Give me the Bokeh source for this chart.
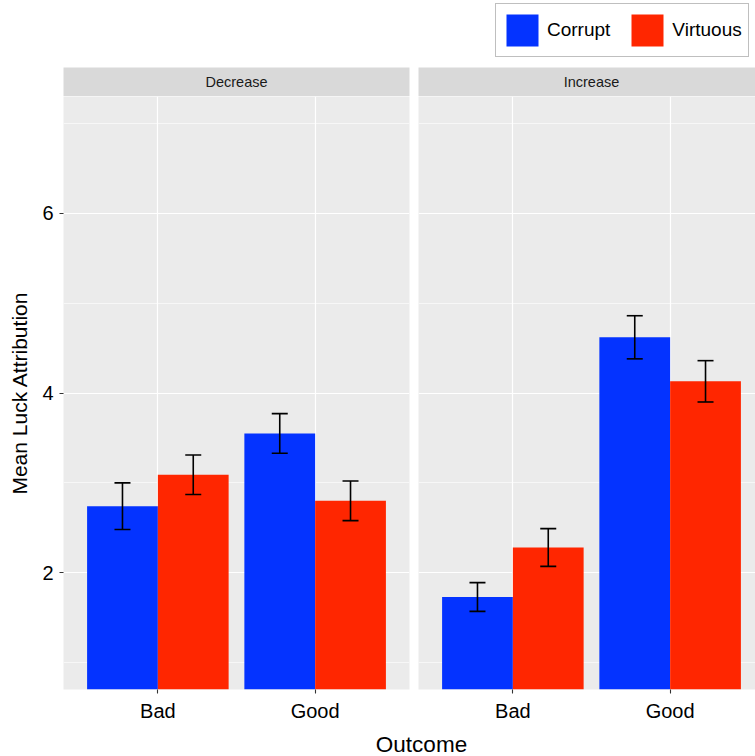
import numpy as np
from bokeh.plotting import figure
from bokeh.models import (ColumnDataSource, Range1d, FixedTicker, Whisker, TeeHead,
                          Label, Legend, LegendItem)
from bokeh.layouts import column, row
from bokeh.embed import file_html
from bokeh.resources import INLINE

# ---------------- data ----------------
outcomes = ["Bad", "Good"]
targets = ["Corrupt", "Virtuous"]
facets = ["Decrease", "Increase"]

dec_corrupt = [2.74, 3.55]
dec_corrupt_se = [0.26, 0.22]
dec_virtuous = [3.09, 2.80]
dec_virtuous_se = [0.22, 0.22]

inc_corrupt = [1.73, 4.62]
inc_corrupt_se = [0.16, 0.24]
inc_virtuous = [2.28, 4.13]
inc_virtuous_se = [0.21, 0.23]

y_ticks = [2, 4, 6]
y_minor = [1, 3, 5, 7]

# ---------------- style ----------------
COLORS = {"Corrupt": "#0433FF", "Virtuous": "#FF2600"}
FONT = "Liberation Sans"
PANEL_BG = "#EBEBEB"
STRIP_BG = "#D9D9D9"
Y0, Y1 = 0.7, 7.3
DODGE = 0.225
BAR_W = 0.45
PX_PER_UNIT = 346 / 2.2
W_LEFT, W_RIGHT = 413, 342
LEFT_BORDERS = (63, 4)
RIGHT_BORDERS = (5, 0)
X_MAX_RIGHT = 0.4 + (W_RIGHT - sum(RIGHT_BORDERS)) / PX_PER_UNIT


def base_fig(width, height, xr, yr, borders, **kw):
    p = figure(width=width, height=height, x_range=xr, y_range=yr,
               output_backend="svg", toolbar_location=None,
               min_border_left=borders[0], min_border_right=borders[1], **kw)
    p.border_fill_color = "white"
    p.outline_line_color = None
    return p


def make_strip(title, width, borders, xmax):
    s = base_fig(width, 29, Range1d(0.4, xmax), Range1d(0, 1), borders,
                 min_border_top=0, min_border_bottom=0,
                 x_axis_location=None, y_axis_location=None)
    s.background_fill_color = STRIP_BG
    s.xgrid.visible = False
    s.ygrid.visible = False
    s.add_layout(Label(x=1.5, y=0.5, text=title, text_align="center",
                       text_baseline="middle", text_font=FONT,
                       text_font_size="14.5px", text_color="#1A1A1A"))
    return s


def make_panel(corrupt, corrupt_se, virtuous, virtuous_se,
               width, borders, xmax, show_y):
    p = base_fig(width, 629, Range1d(0.4, xmax), Range1d(Y0, Y1), borders,
                 min_border_top=0, min_border_bottom=36,
                 y_axis_location="left" if show_y else None)
    p.background_fill_color = PANEL_BG

    xpos = [i + 1 for i in range(len(outcomes))]
    for name, vals, se, off in [("Corrupt", corrupt, corrupt_se, -DODGE),
                                ("Virtuous", virtuous, virtuous_se, DODGE)]:
        src = ColumnDataSource(dict(
            x=[x + off for x in xpos],
            top=vals,
            upper=[v + e for v, e in zip(vals, se)],
            lower=[v - e for v, e in zip(vals, se)],
        ))
        p.vbar(x="x", top="top", bottom=0, width=BAR_W, source=src,
               fill_color=COLORS[name], line_color=None)
        w = Whisker(base="x", upper="upper", lower="lower", source=src,
                    line_color="black", line_width=1.6,
                    upper_head=TeeHead(size=16, line_color="black", line_width=1.6),
                    lower_head=TeeHead(size=16, line_color="black", line_width=1.6))
        w.level = "overlay"
        p.add_layout(w)

    p.xgrid.ticker = FixedTicker(ticks=xpos)
    p.xgrid.grid_line_color = "white"
    p.xgrid.grid_line_width = 1.2
    p.ygrid.ticker = FixedTicker(ticks=y_ticks, minor_ticks=y_minor)
    p.ygrid.grid_line_color = "white"
    p.ygrid.grid_line_width = 1.2
    p.ygrid.minor_grid_line_color = "white"
    p.ygrid.minor_grid_line_width = 0.6

    xa = p.xaxis[0]
    xa.ticker = FixedTicker(ticks=xpos)
    xa.major_label_overrides = {x: lab for x, lab in zip(xpos, outcomes)}
    xa.axis_line_color = None
    xa.major_tick_line_color = "#333333"
    xa.major_tick_line_width = 1.1
    xa.major_tick_out = 4
    xa.major_tick_in = 0
    xa.minor_tick_line_color = None
    xa.major_label_text_font = FONT
    xa.major_label_text_font_size = "20px"
    xa.major_label_text_color = "black"
    xa.major_label_standoff = 6

    if show_y:
        ya = p.yaxis[0]
        ya.ticker = FixedTicker(ticks=y_ticks)
        ya.axis_line_color = None
        ya.major_tick_line_color = "#333333"
        ya.major_tick_line_width = 1.1
        ya.major_tick_out = 4
        ya.major_tick_in = 0
        ya.minor_tick_line_color = None
        ya.major_label_text_font = FONT
        ya.major_label_text_font_size = "20px"
        ya.major_label_text_color = "black"
        ya.major_label_standoff = 6
        ya.axis_label = "Mean Luck Attribution"
        ya.axis_label_text_font = FONT
        ya.axis_label_text_font_size = "21px"
        ya.axis_label_text_font_style = "normal"
        ya.axis_label_text_color = "black"
        ya.axis_label_standoff = 8
    return p


# ---- legend row ----
top = figure(width=755, height=67, x_range=Range1d(0, 1), y_range=Range1d(0, 1),
             output_backend="svg", toolbar_location=None, min_border=0,
             x_axis_location=None, y_axis_location=None)
top.outline_line_color = None
top.xgrid.visible = False
top.ygrid.visible = False
top.background_fill_color = "white"
legend_items = []
for t in targets:
    # legend-only renderer: one row of NaN, so nothing is drawn in the plot
    r = top.vbar(x=[np.nan], top=[np.nan], width=0.1,
                 fill_color=COLORS[t], line_color=None)
    legend_items.append(LegendItem(label=t, renderers=[r]))
leg = Legend(items=legend_items, location=(495, 10), orientation="horizontal")
leg.glyph_width = 40
leg.glyph_height = 40
leg.label_standoff = 5
leg.spacing = 17
leg.padding = 6
leg.margin = 0
leg.label_text_font = FONT
leg.label_text_font_size = "19px"
leg.label_text_color = "black"
leg.label_text_baseline = "middle"
leg.border_line_color = "#7F7F7F"
leg.border_line_width = 1.5
leg.background_fill_color = "white"
leg.background_fill_alpha = 1.0
top.add_layout(leg)

# ---- strips ----
strip_l = make_strip(facets[0], W_LEFT, LEFT_BORDERS, 2.6)
strip_r = make_strip(facets[1], W_RIGHT, RIGHT_BORDERS, X_MAX_RIGHT)

# ---- panels ----
left = make_panel(dec_corrupt, dec_corrupt_se, dec_virtuous, dec_virtuous_se,
                  W_LEFT, LEFT_BORDERS, 2.6, show_y=True)
right = make_panel(inc_corrupt, inc_corrupt_se, inc_virtuous, inc_virtuous_se,
                   W_RIGHT, RIGHT_BORDERS, X_MAX_RIGHT, show_y=False)

# ---- x axis title ----
bottom = figure(width=755, height=31, x_range=Range1d(0, 755), y_range=Range1d(0, 31),
                output_backend="svg", toolbar_location=None,
                min_border=0, x_axis_location=None, y_axis_location=None)
bottom.outline_line_color = None
bottom.xgrid.visible = False
bottom.ygrid.visible = False
bottom.background_fill_color = "white"
bottom.add_layout(Label(x=421, y=12, text="Outcome", text_align="center",
                        text_baseline="middle", text_font=FONT,
                        text_font_size="22.5px", text_color="black"))

layout = column(top, row(strip_l, strip_r), row(left, right), bottom)
open("out.html", "w").write(file_html(layout, INLINE))
